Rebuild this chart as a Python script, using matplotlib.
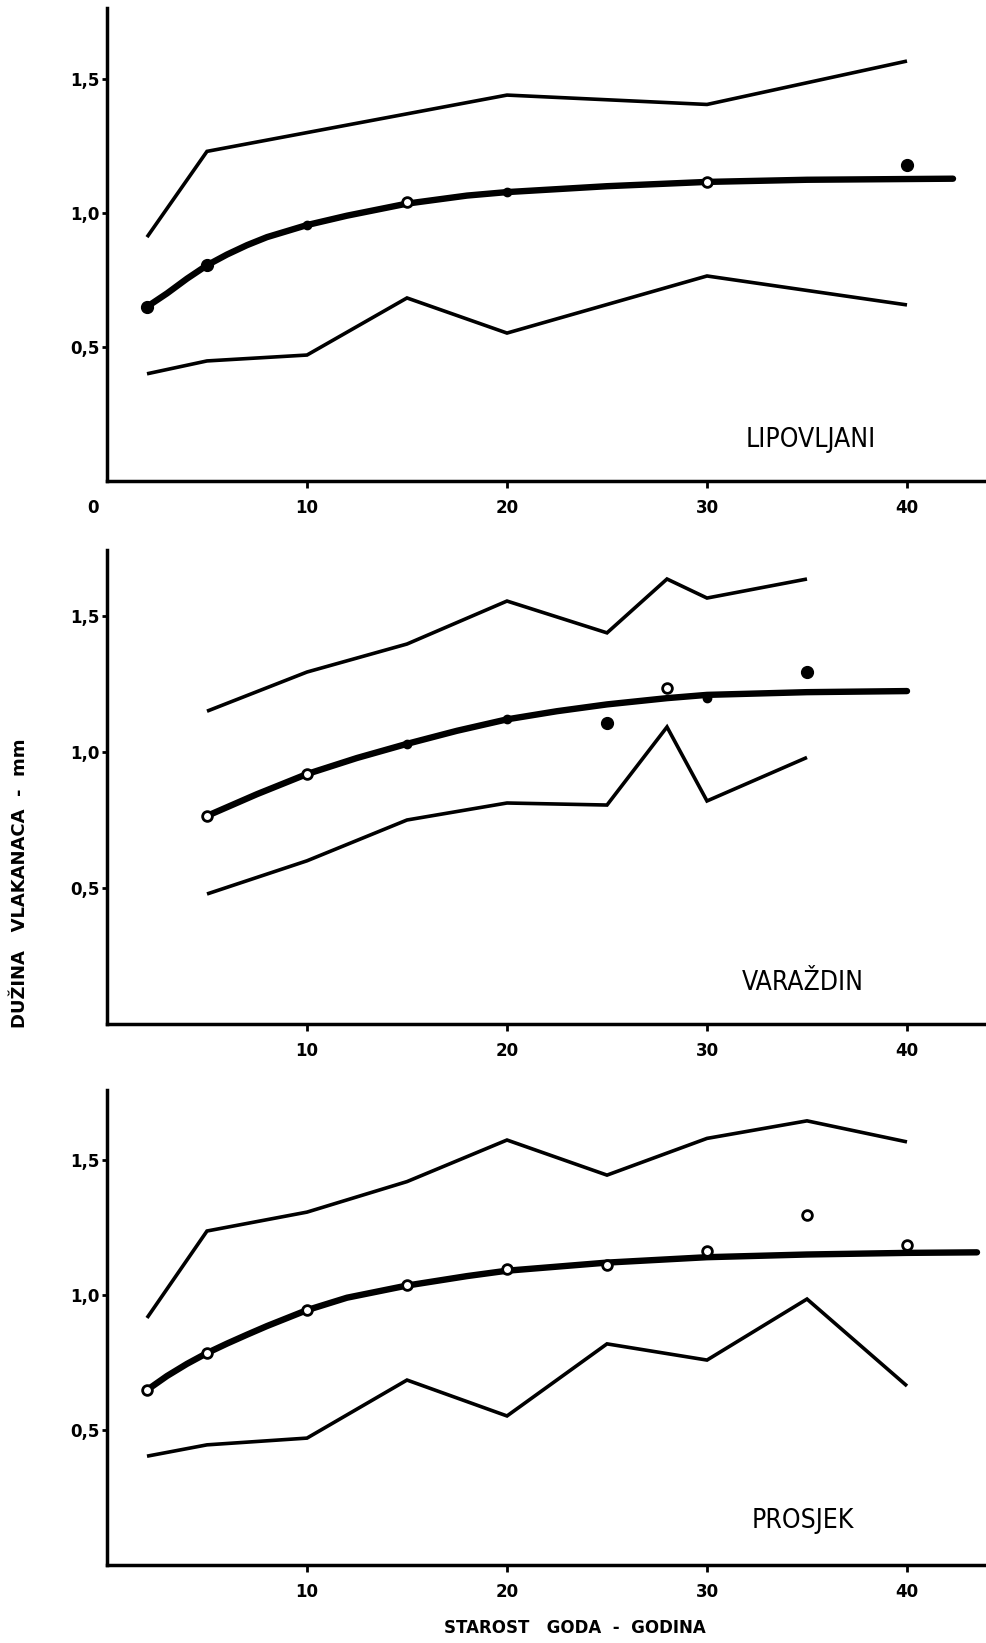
import matplotlib
matplotlib.use("Agg")
import matplotlib.pyplot as plt

# ---------------- data ----------------
panel_names = ["LIPOVLJANI", "VARAŽDIN", "PROSJEK"]

# Panel 1 - LIPOVLJANI
p1_x = [2, 5, 10, 15, 20, 30, 40]
p1_upper = [0.91, 1.23, 1.30, 1.37, 1.44, 1.405, 1.567]
p1_lower = [0.40, 0.448, 0.47, 0.683, 0.552, 0.765, 0.657]
p1_obs = [0.65, 0.805, 0.955, 1.04, 1.078, 1.116, 1.18]
p1_kind = ["dot", "dot", "small", "open", "small", "open", "dot"]
p1_curve_x = [2, 3, 4, 5, 6, 7, 8, 10, 12, 15, 18, 20, 25, 30, 35, 42.3]
p1_curve_y = [0.65, 0.70, 0.755, 0.805, 0.845, 0.88, 0.91, 0.955, 0.99, 1.035, 1.065, 1.078, 1.10, 1.116, 1.124, 1.128]

# Panel 2 - VARAZDIN
p2_x = [5, 10, 15, 20, 25, 28, 30, 35]
p2_upper = [1.15, 1.294, 1.397, 1.555, 1.438, 1.636, 1.566, 1.636]
p2_lower = [0.478, 0.60, 0.75, 0.8125, 0.805, 1.092, 0.82, 0.98]
p2_obs = [0.765, 0.919, 1.03, 1.12, 1.107, 1.235, 1.20, 1.294]
p2_kind = ["open", "open", "small", "small", "dot", "open", "small", "dot"]
p2_curve_x = [5, 7.5, 10, 12.5, 15, 17.5, 20, 22.5, 25, 28, 30, 35, 40]
p2_curve_y = [0.765, 0.845, 0.919, 0.978, 1.03, 1.078, 1.12, 1.15, 1.175, 1.198, 1.21, 1.22, 1.224]

# Panel 3 - PROSJEK
p3_x = [2, 5, 10, 15, 20, 25, 30, 35, 40]
p3_upper = [0.915, 1.237, 1.307, 1.42, 1.574, 1.444, 1.58, 1.645, 1.567]
p3_lower = [0.403, 0.445, 0.47, 0.685, 0.552, 0.819, 0.759, 0.985, 0.663]
p3_obs = [0.648, 0.785, 0.944, 1.037, 1.096, 1.11, 1.163, 1.296, 1.185]
p3_kind = ["open"] * 9
p3_curve_x = [2, 3, 4, 5, 6, 7, 8, 10, 12, 15, 18, 20, 25, 30, 35, 40, 43.5]
p3_curve_y = [0.648, 0.70, 0.745, 0.785, 0.82, 0.853, 0.885, 0.944, 0.99, 1.035, 1.07, 1.09, 1.12, 1.14, 1.15, 1.156, 1.158]

y_ticks = [0.5, 1.0, 1.5]
y_tick_labels = ["0,5", "1,0", "1,5"]
x_ticks = [10, 20, 30, 40]
x_tick_labels = ["10", "20", "30", "40"]

y_label = "DUŽINA   VLAKANACA  -  mm"
x_label = "STAROST   GODA  -  GODINA"

panels = [
    (p1_x, p1_upper, p1_lower, p1_obs, p1_kind, p1_curve_x, p1_curve_y),
    (p2_x, p2_upper, p2_lower, p2_obs, p2_kind, p2_curve_x, p2_curve_y),
    (p3_x, p3_upper, p3_lower, p3_obs, p3_kind, p3_curve_x, p3_curve_y),
]

# ---------------- figure ----------------
W, H = 986, 1643
fig = plt.figure(figsize=(W / 100, H / 100), dpi=100)
fig.patch.set_facecolor("white")

boxes = [(8, 481), (550, 1024), (1090, 1565)]
ylims = [(481 - 8) / 268, (1024 - 550) / 272, (1565 - 1090) / 270]
left_px = 107
xmax = (W - left_px) / 20.0

label_pos = [(811, 440), (803, 983), (803, 1521)]

for i, (box, pdata) in enumerate(zip(boxes, panels)):
    top, bot = box
    ax = fig.add_axes([left_px / W, 1 - bot / H, 1 - left_px / W, (bot - top) / H])
    xs, up, lo, obs, kind, cx, cy = pdata
    ax.set_xlim(0, xmax)
    ax.set_ylim(0, ylims[i])
    for s in ["top", "right"]:
        ax.spines[s].set_visible(False)
    for s in ["left", "bottom"]:
        ax.spines[s].set_linewidth(2.5)
        ax.spines[s].set_color("black")

    ax.plot(xs, up, color="black", lw=2.6, solid_joinstyle="miter", solid_capstyle="butt")
    ax.plot(xs, lo, color="black", lw=2.6, solid_joinstyle="miter", solid_capstyle="butt")
    ax.plot(cx, cy, color="black", lw=4.6, solid_capstyle="round", solid_joinstyle="round")

    for xv, yv, k in zip(xs, obs, kind):
        if k == "dot":
            ax.plot(xv, yv, "o", color="black", ms=8.5, zorder=5)
        elif k == "small":
            ax.plot(xv, yv, "o", color="black", ms=6, zorder=5)
        else:
            ax.plot(xv, yv, "o", mfc="white", mec="black", mew=2.0, ms=7, zorder=5)

    ax.set_yticks(y_ticks)
    ax.set_yticklabels(y_tick_labels, fontsize=12, fontweight="bold")
    ax.set_xticks(x_ticks)
    ax.set_xticklabels(x_tick_labels, fontsize=12, fontweight="bold")
    ax.tick_params(axis="y", direction="out", length=3.5, width=2, pad=1.5)
    ax.tick_params(axis="x", direction="out", length=5, width=2, pad=8)

    lx, ly = label_pos[i]
    fig.text(lx / W, 1 - ly / H, panel_names[i], fontsize=19, ha="center", va="center",
             family="DejaVu Sans", stretch="condensed")

fig.text(93 / W, 1 - 508 / H, "0", fontsize=12, fontweight="bold", ha="center", va="center")

fig.text(20 / W, 1 - 883 / H, y_label, rotation=90, fontsize=13, fontweight="bold",
         ha="center", va="center")
fig.text(575 / W, 1 - 1628 / H, x_label, fontsize=12, fontweight="bold",
         ha="center", va="center")

fig.savefig("out.png", dpi=100, facecolor="white")
